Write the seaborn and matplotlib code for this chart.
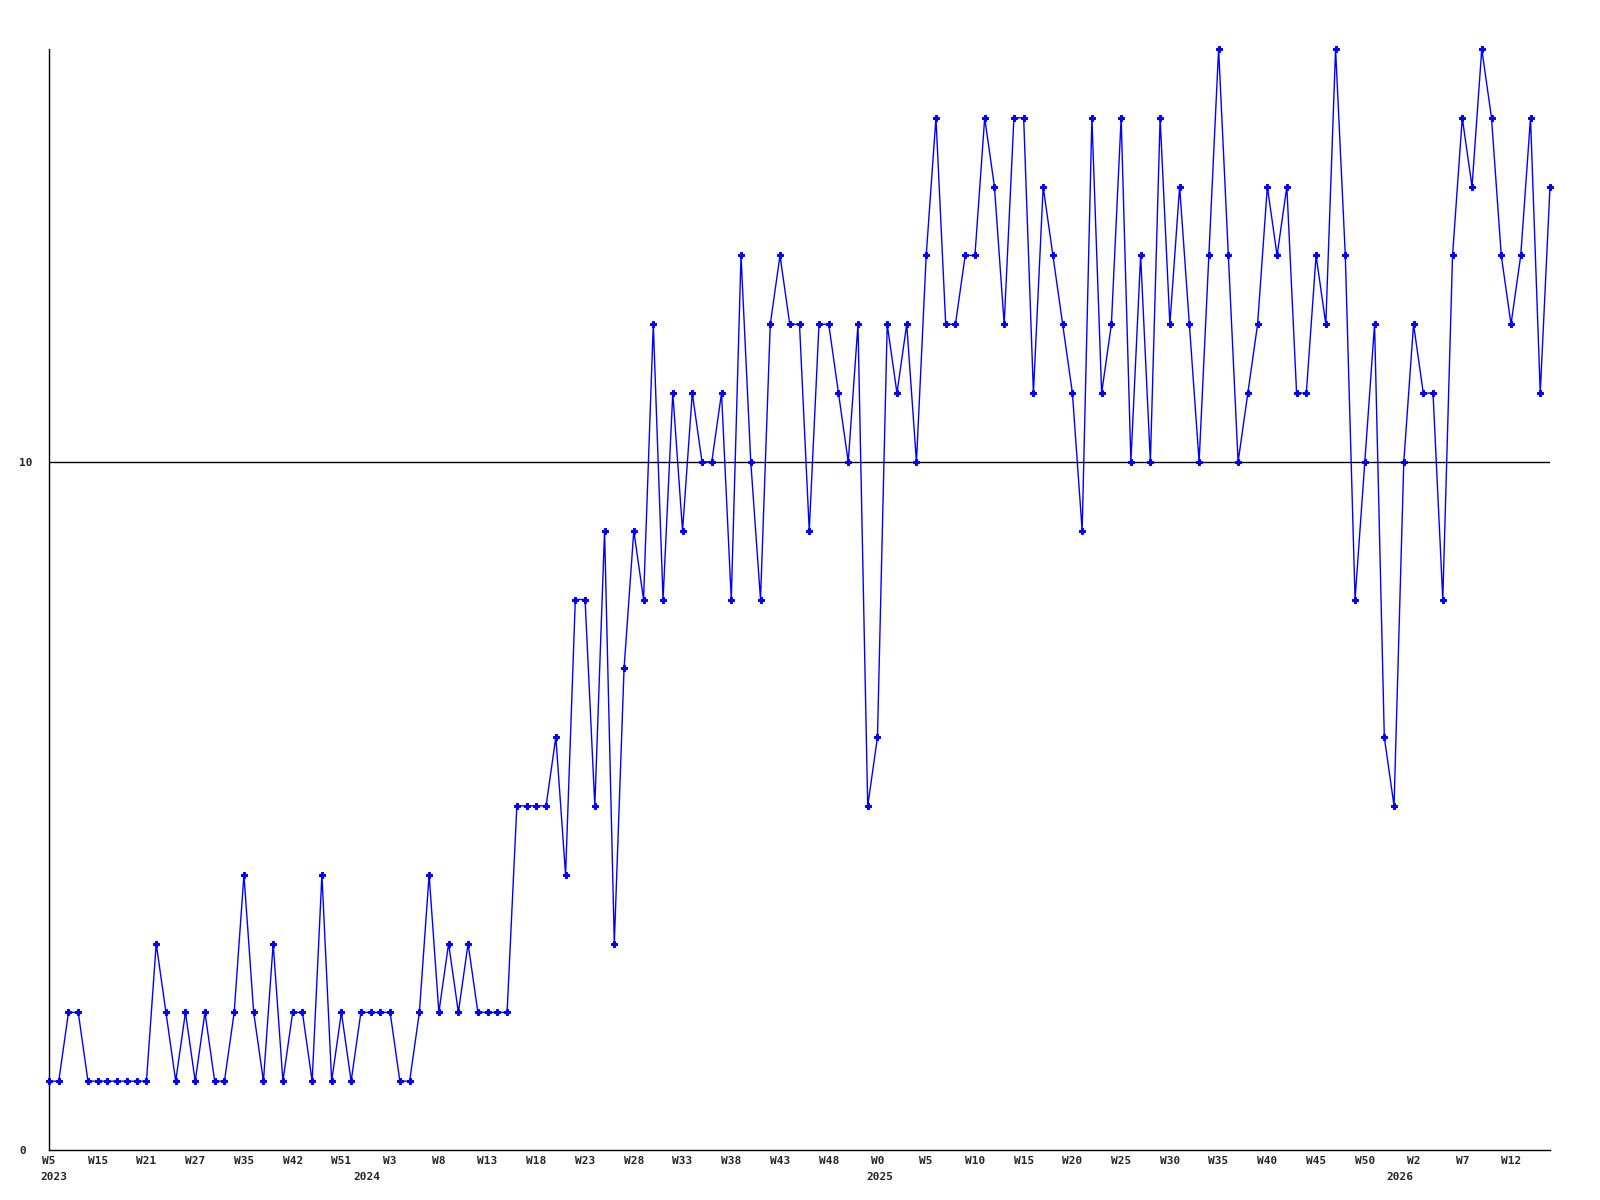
import matplotlib
matplotlib.use("Agg")
import matplotlib.pyplot as plt
import numpy as np
import pandas as pd
import seaborn as sns

# weekly values, one per point
values = [1, 1, 2, 2, 1, 1, 1, 1, 1, 1,
          1, 3, 2, 1, 2, 1, 2, 1, 1, 2,
          4, 2, 1, 3, 1, 2, 2, 1, 4, 1,
          2, 1, 2, 2, 2, 2, 1, 1, 2, 4,
          2, 3, 2, 3, 2, 2, 2, 2, 5, 5,
          5, 5, 6, 4, 8, 8, 5, 9, 3, 7,
          9, 8, 12, 8, 11, 9, 11, 10, 10, 11,
          8, 13, 10, 8, 12, 13, 12, 12, 9, 12,
          12, 11, 10, 12, 5, 6, 12, 11, 12, 10,
          13, 15, 12, 12, 13, 13, 15, 14, 12, 15,
          15, 11, 14, 13, 12, 11, 9, 15, 11, 12,
          15, 10, 13, 10, 15, 12, 14, 12, 10, 13,
          16, 13, 10, 11, 12, 14, 13, 14, 11, 11,
          13, 12, 16, 13, 8, 10, 12, 6, 5, 10,
          12, 11, 11, 8, 13, 15, 14, 16, 15, 13,
          12, 13, 15, 11, 14]

week_labels = ["W5", "W15", "W21", "W27", "W35", "W42", "W51", "W3", "W8", "W13",
               "W18", "W23", "W28", "W33", "W38", "W43", "W48", "W0", "W5", "W10",
               "W15", "W20", "W25", "W30", "W35", "W40", "W45", "W50", "W2", "W7",
               "W12"]
year_labels = ["2023", "2024", "2025", "2026"]
year_at = [-0.9, 31.2, 83.9, 137.2]  # left edge of each year label, in point index

df = pd.DataFrame({"idx": np.arange(len(values)), "value": values})

sns.set_style("white")
plt.rcParams['font.family'] = ['DejaVu Sans Mono', 'DejaVu Sans']
plt.rcParams['font.weight'] = 'bold'

fig = plt.figure(figsize=(16, 12), dpi=100)
ax = fig.add_axes([49 / 1600, 50 / 1200, 1501 / 1600, 1101 / 1200])

ax.axhline(10, color="black", lw=1, zorder=1)
sns.lineplot(data=df, x="idx", y="value", estimator=None, color="#0000ff",
             lw=1, marker="P", markersize=4, markeredgecolor="#0000ff",
             ax=ax, zorder=3, clip_on=False)

ax.set_xlim(0, len(values) - 1)
ax.set_ylim(0, 16)
ax.set_xticks(np.arange(0, len(values), 5))
ax.set_xticklabels(week_labels, fontsize=8, fontweight="bold")
ax.set_yticks([0, 10])
ax.set_yticklabels(["0", "10"], fontsize=8, fontweight="bold")
for lab in ax.get_yticklabels():
    lab.set_ha("left")
ax.tick_params(axis="y", length=0, pad=21.6)
ax.tick_params(axis="x", length=0, pad=4)
ax.set_xlabel("")
ax.set_ylabel("")

for side in ["top", "right"]:
    ax.spines[side].set_visible(False)
for side in ["left", "bottom"]:
    ax.spines[side].set_color("black")
    ax.spines[side].set_linewidth(1)

for lab, pos in zip(year_labels, year_at):
    ax.annotate(lab, xy=(pos, 0), xycoords=("data", "axes fraction"),
                xytext=(0, -16), textcoords="offset points",
                ha="left", va="top", fontsize=8, fontweight="bold",
                annotation_clip=False)

fig.savefig("out.png", dpi=100)
